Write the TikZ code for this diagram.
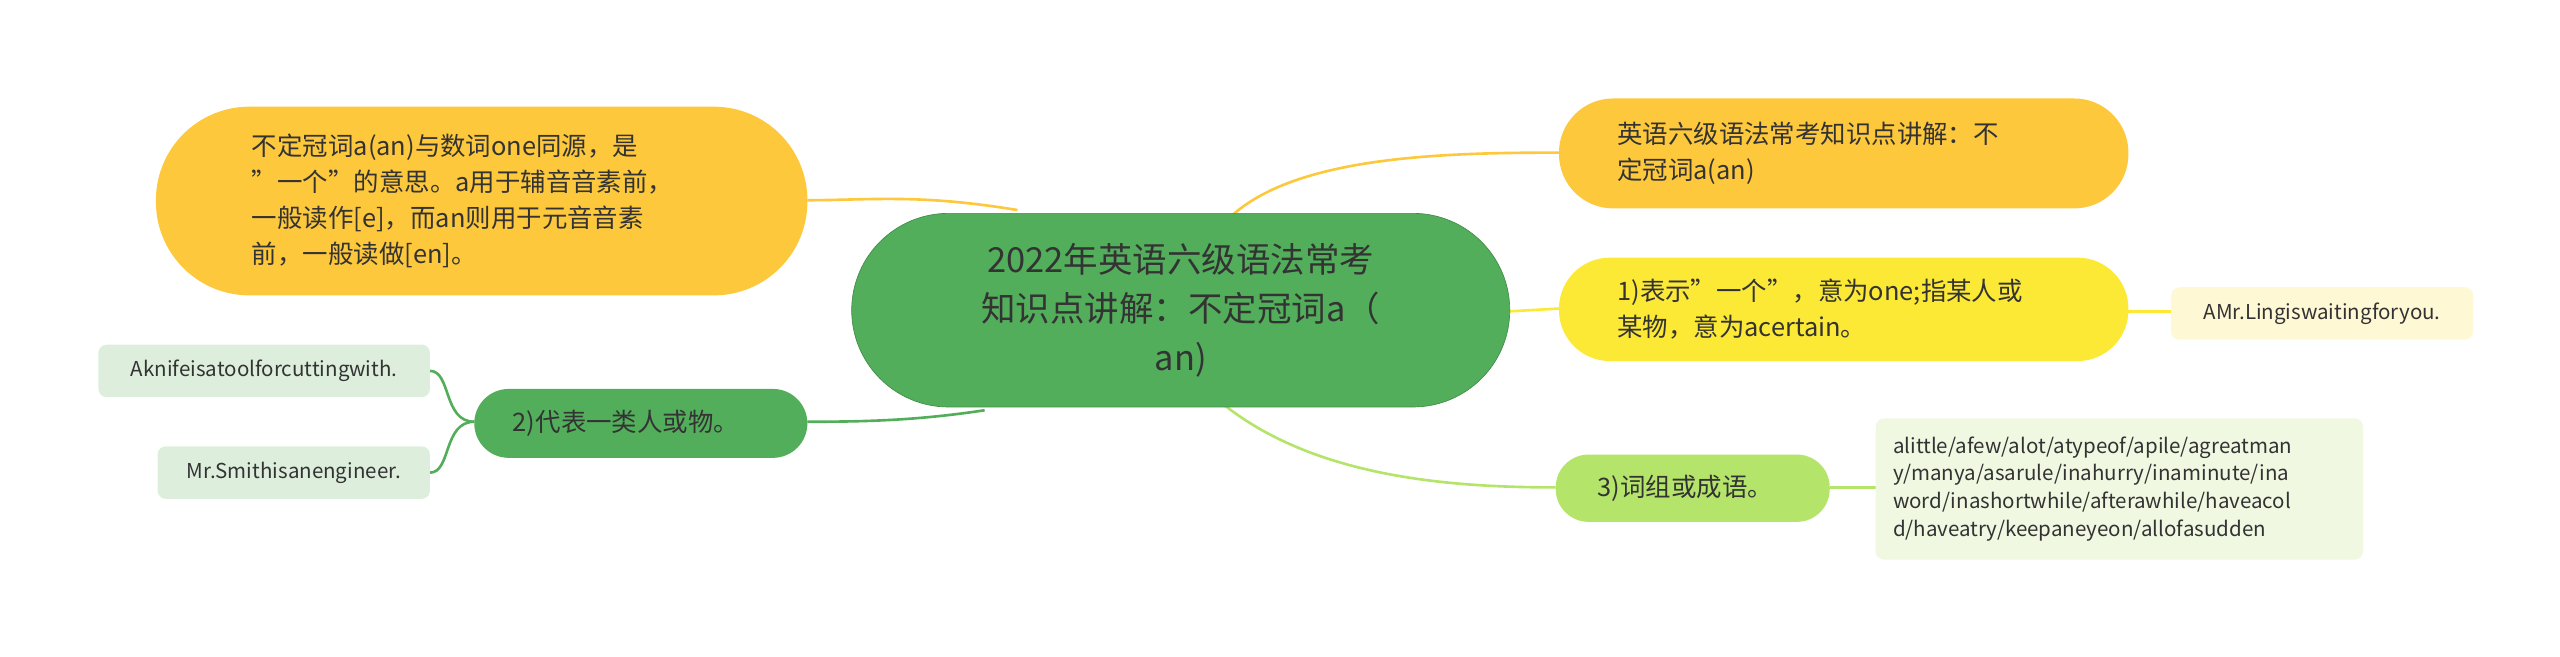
\documentclass[tikz,border=0pt]{standalone}
\usepackage{fontspec}
\setmainfont{Noto Sans CJK SC}
\definecolor{cgreen}{HTML}{52AE5A}
\definecolor{corange}{HTML}{FDC83B}
\definecolor{cyellow}{HTML}{FCE935}
\definecolor{clgreen}{HTML}{B5E46A}
\definecolor{pyellow}{HTML}{FFF8D5}
\definecolor{plgreen}{HTML}{F0F8E2}
\definecolor{pgreen}{HTML}{DDEFDC}
\definecolor{tdark}{HTML}{333333}
\begin{document}
\begin{tikzpicture}[x=1pt,y=-1pt,
  box/.style={rounded corners=#1,inner sep=0pt,text=tdark},
  lbl/.style={anchor=west,align=left,text=tdark,font=\fontsize{15.5}{22}\selectfont},
  small/.style={text=tdark,font=\fontsize{12.5}{17}\selectfont},
  con/.style={line width=1.6pt}]
\useasboundingbox (0,0) rectangle (1560,400);
% connectors
\draw[con,corange] (620,128) .. controls (560,118) and (530,122) .. (492,122);
\draw[con,corange] (750,132) .. controls (790,95) and (880,93) .. (950,93);
\draw[con,cyellow] (915,190) -- (950,188);
\draw[con,clgreen] (745,246) .. controls (800,290) and (880,297) .. (948,297);
\draw[con,cgreen] (600,250) .. controls (560,256) and (530,257) .. (492,257);
\draw[con,cyellow] (1297,190) -- (1323,190);
\draw[con,clgreen] (1115,297) -- (1143,297);
\draw[con,cgreen] (289,257) .. controls (270,257) and (275,226) .. (262,226);
\draw[con,cgreen] (289,257) .. controls (270,257) and (275,288) .. (262,288);
% nodes
\fill[cgreen,draw=cgreen!80!black] (519,130) [rounded corners=59] rectangle (920,248);
\node[text=tdark,align=center,font=\fontsize{21}{30}\selectfont] (c) at (719.5,189) {2022年英语六级语法常考\\知识点讲解：不定冠词a（\\an)};
\fill[corange] (95,65) [rounded corners=57] rectangle (492,180);
\node[lbl] (l1) at (150,122.5) {不定冠词a(an)与数词one同源，是\\"一个"的意思。a用于辅音音素前，\\一般读作[e]，而an则用于元音音素\\前，一般读做[en]。};
\fill[corange] (950,60) [rounded corners=33] rectangle (1297,127);
\node[lbl] (r1) at (982,93.5) {英语六级语法常考知识点讲解：不\\定冠词a(an)};
\fill[cyellow] (950,157) [rounded corners=31] rectangle (1297,220);
\node[lbl] (r2) at (982,188.5) {1)表示"一个"，意为one;指某人或\\某物，意为acertain。};
\fill[pyellow] (1323,175) [rounded corners=5] rectangle (1507,207);
\node[small] (r2a) at (1415,191) {AMr.Lingiswaitingforyou.};
\fill[clgreen] (948,277) [rounded corners=20] rectangle (1115,318);
\node[lbl] (r3) at (970,297.5) {3)词组或成语。};
\fill[plgreen] (1143,255) [rounded corners=5] rectangle (1440,341);
\node[small,anchor=west,align=left] (r3a) at (1150,298) {alittle/afew/alot/atypeof/apile/agreatman\\y/manya/asarule/inahurry/inaminute/ina\\word/inashortwhile/afterawhile/haveacol\\d/haveatry/keepaneyeon/allofasudden};
\fill[cgreen] (289,237) [rounded corners=21] rectangle (492,279);
\node[lbl] (l2) at (309,258) {2)代表一类人或物。};
\fill[pgreen] (60,210) [rounded corners=5] rectangle (262,242);
\node[small] (l2a) at (161,226) {Aknifeisatoolforcuttingwith.};
\fill[pgreen] (96,272) [rounded corners=5] rectangle (262,304);
\node[small] (l2b) at (179,288) {Mr.Smithisanengineer.};
\end{tikzpicture}
\end{document}
